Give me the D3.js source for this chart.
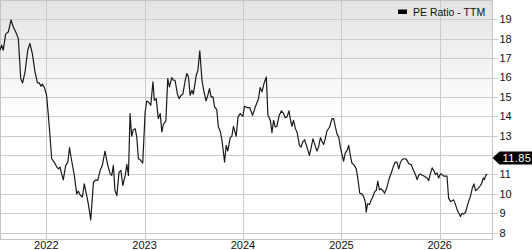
<!DOCTYPE html>
<meta charset="utf-8">
<title>PE Ratio - TTM</title>
<style>
body {
	margin: 0;
	background: #fff;
}

svg text {
	font-family: "Liberation Sans", Arial, sans-serif;
	fill: #111;
}

.grid line {
	stroke: #cbcbcb;
	stroke-width: 1px;
	shape-rendering: crispEdges;
}

.pe-line {
	fill: none;
	stroke: #1a1a1a;
	stroke-width: 1.2px;
	stroke-linejoin: round;
}
</style>
<svg width="532" height="250"></svg>
<script src="https://cdn.jsdelivr.net/npm/d3@7"></script>
<script>
// PE ratio, trailing twelve months
var dates = [
	"2021-07-13","2021-07-19","2021-07-25","2021-08-03","2021-08-13","2021-08-23","2021-08-31","2021-09-09",
	"2021-09-19","2021-09-28","2021-10-05","2021-10-14","2021-10-24","2021-11-01","2021-11-10","2021-11-20",
	"2021-11-29","2021-12-06","2021-12-12","2021-12-17","2021-12-25","2022-01-02","2022-01-08","2022-01-15",
	"2022-01-21","2022-01-30","2022-02-09","2022-02-15","2022-02-21","2022-02-27","2022-03-05","2022-03-14",
	"2022-03-22","2022-03-28","2022-04-05","2022-04-14","2022-04-24","2022-04-30","2022-05-06","2022-05-15",
	"2022-05-22","2022-05-31","2022-06-06","2022-06-15","2022-06-25","2022-07-04","2022-07-11","2022-07-20",
	"2022-07-28","2022-08-07","2022-08-16","2022-08-26","2022-09-01","2022-09-07","2022-09-13","2022-09-20",
	"2022-09-28","2022-10-05","2022-10-12","2022-10-21","2022-10-27","2022-11-02","2022-11-08","2022-11-14",
	"2022-11-20","2022-11-27","2022-12-03","2022-12-09","2022-12-15","2022-12-25","2023-01-03","2023-01-09",
	"2023-01-15","2023-01-24","2023-02-01","2023-02-06","2023-02-13","2023-02-21","2023-02-28","2023-03-06",
	"2023-03-12","2023-03-21","2023-03-28","2023-04-03","2023-04-12","2023-04-18","2023-04-24","2023-05-03",
	"2023-05-09","2023-05-17","2023-05-23","2023-06-01","2023-06-07","2023-06-13","2023-06-19","2023-06-26",
	"2023-07-01","2023-07-12","2023-07-18","2023-07-25","2023-08-02","2023-08-08","2023-08-17","2023-08-24",
	"2023-08-30","2023-09-05","2023-09-12","2023-09-18","2023-09-26","2023-10-02","2023-10-09","2023-10-15",
	"2023-10-25","2023-10-31","2023-11-06","2023-11-15","2023-11-21","2023-11-27","2023-12-07","2023-12-14",
	"2023-12-22","2024-01-01","2024-01-07","2024-01-16","2024-01-26","2024-02-06","2024-02-16","2024-02-28",
	"2024-03-05","2024-03-12","2024-03-20","2024-03-28","2024-04-03","2024-04-12","2024-04-18","2024-04-24",
	"2024-04-30","2024-05-06","2024-05-15","2024-05-23","2024-05-31","2024-06-06","2024-06-13","2024-06-20",
	"2024-06-25","2024-07-01","2024-07-07","2024-07-14","2024-07-20","2024-07-29","2024-08-04","2024-08-10",
	"2024-08-17","2024-08-26","2024-09-04","2024-09-11","2024-09-17","2024-09-23","2024-10-02","2024-10-08",
	"2024-10-15","2024-10-21","2024-10-27","2024-11-02","2024-11-08","2024-11-18","2024-11-27","2024-12-03",
	"2024-12-09","2024-12-16","2024-12-22","2024-12-28","2025-01-03","2025-01-09","2025-01-15","2025-01-22",
	"2025-01-28","2025-02-03","2025-02-09","2025-02-18","2025-02-25","2025-03-04","2025-03-10","2025-03-18",
	"2025-03-24","2025-03-31","2025-04-03","2025-04-08","2025-04-15","2025-04-21","2025-04-28","2025-05-04",
	"2025-05-10","2025-05-16","2025-05-22","2025-05-28","2025-06-04","2025-06-10","2025-06-17","2025-06-23",
	"2025-06-29","2025-07-05","2025-07-12","2025-07-20","2025-07-26","2025-08-02","2025-08-08","2025-08-14",
	"2025-08-20","2025-08-27","2025-09-02","2025-09-08","2025-09-17","2025-09-24","2025-10-03","2025-10-09",
	"2025-10-15","2025-10-21","2025-10-28","2025-11-05","2025-11-15","2025-11-21","2025-11-27","2025-12-04",
	"2025-12-10","2025-12-16","2025-12-22","2025-12-28","2026-01-04","2026-01-10","2026-01-16","2026-01-28",
	"2026-02-03","2026-02-10","2026-02-16","2026-02-22","2026-02-28","2026-03-07","2026-03-13","2026-03-19",
	"2026-03-25","2026-03-31","2026-04-07","2026-04-13","2026-04-19","2026-04-25","2026-05-02","2026-05-08",
	"2026-05-14","2026-05-23","2026-05-30","2026-06-05","2026-06-12","2026-06-16","2026-06-20","2026-06-26"
]

var peValues = [
	17.41,17.67,17.41,18.24,18.36,18.97,18.62,18.36,
	18.02,15.95,15.72,16.29,17.41,17.76,17.24,16.29,
	15.72,15.72,15.55,15.66,15.48,15.09,14.14,12.93,
	11.81,11.64,11.38,11.29,11.38,11.03,10.72,11.47,
	11.64,12.38,11.72,11.03,10.00,10.14,9.95,9.84,
	10.52,9.91,9.48,8.66,10.60,10.72,10.69,11.21,
	11.47,12.21,11.55,11.03,10.95,11.47,10.17,9.91,
	11.12,11.21,10.43,10.95,11.52,10.95,14.14,12.97,
	13.31,13.36,12.93,11.81,11.76,11.59,14.22,14.79,
	14.74,14.57,15.78,14.83,14.91,13.88,14.14,13.19,
	13.59,13.76,15.95,15.52,16.00,15.86,15.86,15.14,
	14.91,15.09,15.14,15.86,16.21,16.03,15.09,15.34,
	15.14,16.12,16.38,17.38,15.86,15.38,14.79,15.09,
	15.43,15.00,15.00,14.48,14.34,13.45,13.22,12.79,
	11.64,12.50,12.21,12.90,12.97,13.48,12.97,13.97,
	14.14,14.00,14.52,14.45,14.45,14.05,14.48,14.91,
	15.48,15.26,15.72,16.03,14.05,13.79,13.16,13.79,
	13.45,13.48,14.05,14.28,14.14,13.93,13.97,14.28,
	13.88,13.48,13.79,13.36,13.19,12.50,12.41,12.67,
	12.79,12.41,11.98,12.41,12.84,12.59,12.21,12.41,
	12.90,12.70,12.55,12.85,13.24,13.45,13.88,13.88,
	13.48,13.07,12.93,12.41,12.03,11.69,12.10,12.24,
	12.50,11.98,11.59,11.47,11.29,10.69,10.03,10.00,
	9.86,9.57,9.05,9.48,9.45,9.66,9.86,10.09,
	10.17,10.66,10.21,10.26,10.17,10.03,10.26,10.55,
	10.86,11.07,11.38,11.64,11.64,11.29,11.62,11.76,
	11.81,11.81,11.72,11.55,11.51,11.25,10.99,10.73,
	10.96,11.03,10.96,10.91,10.82,10.68,11.03,11.34,
	11.20,10.99,11.08,10.82,11.03,10.99,10.91,10.91,
	9.78,9.61,9.64,9.69,9.47,9.17,9.00,8.83,
	9.00,8.95,9.05,9.35,9.64,9.87,10.30,10.51,
	10.16,10.27,10.39,10.51,10.82,10.73,10.91,11.03
]

var yTicks = [8, 9, 10, 11, 12, 13, 14, 15, 16, 17, 18, 19]
var yLabelTicks = [8, 9, 10, 11, 13, 14, 15, 16, 17, 18, 19]
var xTickYears = ["2022", "2023", "2024", "2025", "2026"]
var lastLabel = "11.85"
var seriesName = "PE Ratio - TTM"

var parseDate = d3.timeParse("%Y-%m-%d")
var data = dates.map(function(d, i) { return {date: parseDate(d), value: peValues[i]} })

var svg = d3.select("svg")
var plotW = 492.5, plotH = 239

var x = d3.scaleTime()
	.domain([parseDate("2021-07-13"), parseDate("2026-07-16")])
	.range([0, plotW])

var y = d3.scaleLinear()
	.domain([7.67, 20])
	.range([plotH, 0])

// background gradient
var grad = svg.append("defs").append("linearGradient")
	.attr("id", "bg").attr("x1", 0).attr("y1", 0).attr("x2", 0).attr("y2", 1)
grad.append("stop").attr("offset", "0%").attr("stop-color", "#e3e3e3")
grad.append("stop").attr("offset", "48%").attr("stop-color", "#ffffff")
grad.append("stop").attr("offset", "100%").attr("stop-color", "#ffffff")

svg.append("rect")
	.attr("width", plotW).attr("height", plotH)
	.attr("fill", "url(#bg)")

var grid = svg.append("g").attr("class", "grid")

grid.selectAll(".hline")
	.data(yTicks)
	.enter().append("line")
		.attr("x1", 0).attr("x2", plotW + 5)
		.attr("y1", function(d) { return Math.round(y(d)) + 0.5 })
		.attr("y2", function(d) { return Math.round(y(d)) + 0.5 })

grid.selectAll(".vline")
	.data(xTickYears)
	.enter().append("line")
		.attr("x1", function(d) { return Math.round(x(parseDate(d + "-01-01"))) + 0.5 })
		.attr("x2", function(d) { return Math.round(x(parseDate(d + "-01-01"))) + 0.5 })
		.attr("y1", 0).attr("y2", plotH)

// frame
svg.append("rect")
	.attr("x", 0.5).attr("y", 0.5)
	.attr("width", plotW - 0.5).attr("height", plotH - 0.5)
	.attr("fill", "none")
	.attr("stroke", "#c4c4c4")
	.attr("shape-rendering", "crispEdges")

var line = d3.line()
	.x(function(d) { return x(d.date) })
	.y(function(d) { return y(d.value) })

svg.append("path")
	.datum(data)
	.attr("class", "pe-line")
	.attr("d", line)

// y labels on the right
svg.selectAll(".ylab")
	.data(yLabelTicks)
	.enter().append("text")
		.attr("x", plotW + 7)
		.attr("y", function(d) { return y(d) })
		.attr("dy", "0.36em")
		.attr("font-size", "11px")
		.text(function(d) { return d })

// x labels (sit right on the bottom edge, as in the original)
svg.selectAll(".xlab")
	.data(xTickYears)
	.enter().append("text")
		.attr("x", function(d) { return x(parseDate(d + "-01-01")) })
		.attr("y", 249)
		.attr("text-anchor", "middle")
		.attr("font-size", "11px")
		.text(function(d) { return d })

// last value marker
var ly = y(+lastLabel)
svg.append("path")
	.attr("d", "M" + (plotW) + "," + ly + "L" + (plotW + 7) + "," + (ly - 6.5) +
		"L532," + (ly - 6.5) + "L532," + (ly + 6.5) + "L" + (plotW + 7) + "," + (ly + 6.5) + "Z")
	.attr("fill", "#000")
svg.append("text")
	.attr("x", plotW + 10)
	.attr("y", ly)
	.attr("dy", "0.36em")
	.attr("font-size", "11px")
	.attr("letter-spacing", "0.4px")
	.style("fill", "#fff")
	.text(lastLabel)

// legend
var legend = svg.append("g").attr("transform", "translate(398,9.5)")
legend.append("rect")
	.attr("width", 9).attr("height", 4.5)
	.attr("fill", "#000")
legend.append("text")
	.attr("x", 15).attr("y", 6.5)
	.attr("font-size", "10.5px")
	.text(seriesName)
</script>
